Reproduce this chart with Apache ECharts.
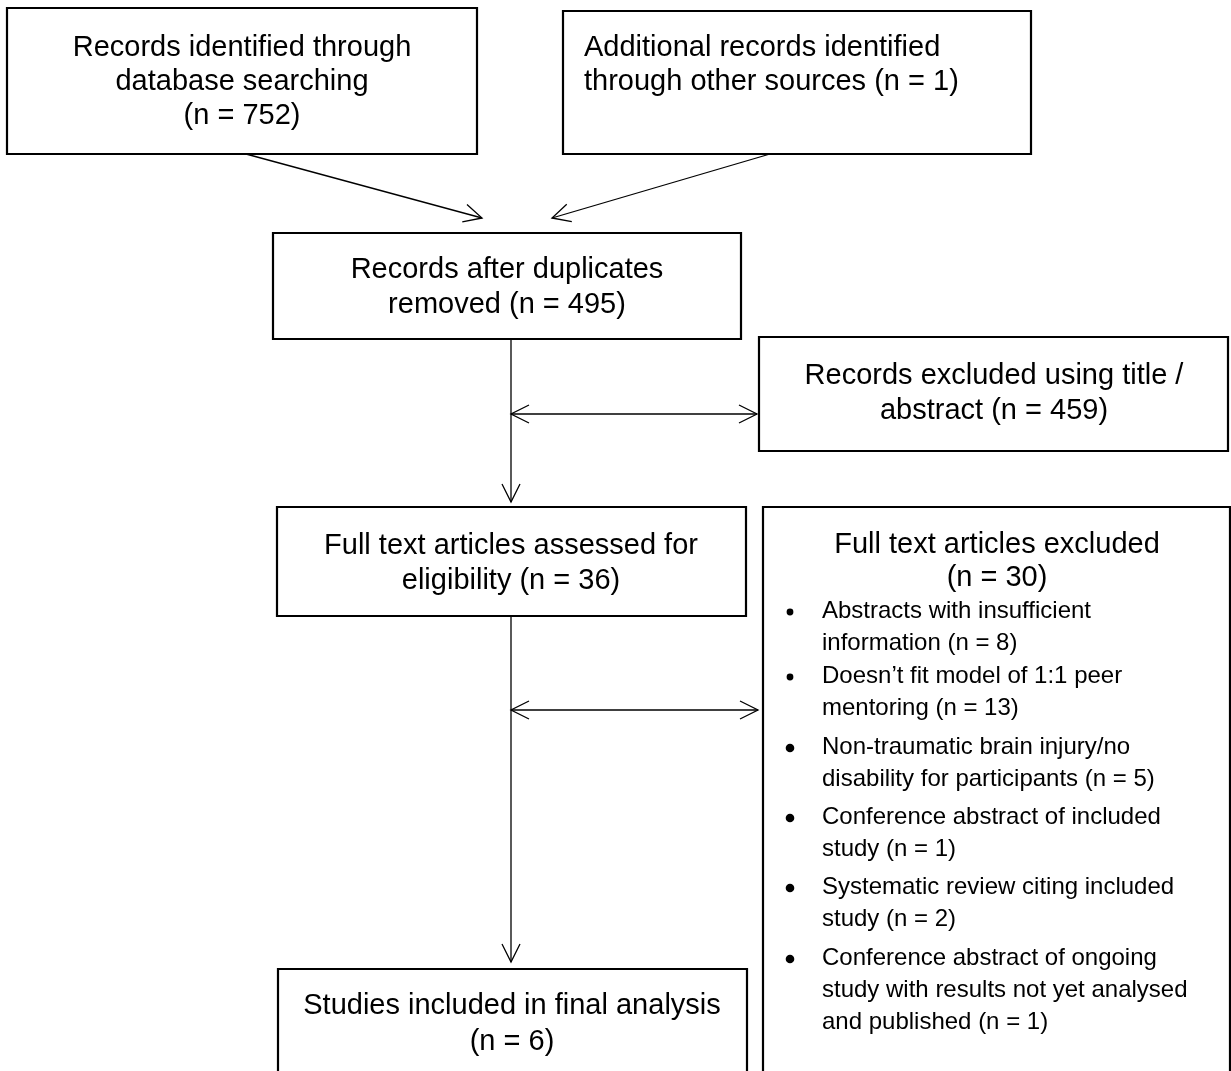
<!DOCTYPE html>
<html>
<head>
<meta charset="utf-8">
<script src="https://cdn.jsdelivr.net/npm/echarts@6/dist/echarts.min.js"></script>
<style>
html,body{margin:0;padding:0;background:#fff;}
#chart{width:1231px;height:1071px;}
</style>
</head>
<body>
<div id="chart"></div>
<script>
// ---- Diagram content (text) ----
const box1Lines = ['Records identified through', 'database searching', '(n = 752)'];
const box2Lines = ['Additional records identified', 'through other sources (n = 1)'];
const box3Lines = ['Records after duplicates', 'removed (n = 495)'];
const box4Lines = ['Records excluded using title /', 'abstract (n = 459)'];
const box5Lines = ['Full text articles assessed for', 'eligibility (n = 36)'];
const box6Title = ['Full text articles excluded', '(n = 30)'];
const exclusionReasons = [
  ['Abstracts with insufficient', 'information (n = 8)'],
  ['Doesn\u2019t fit model of 1:1 peer', 'mentoring (n = 13)'],
  ['Non-traumatic brain injury/no', 'disability for participants (n = 5)'],
  ['Conference abstract of included', 'study (n = 1)'],
  ['Systematic review citing included', 'study (n = 2)'],
  ['Conference abstract of ongoing', 'study with results not yet analysed', 'and published (n = 1)']
];
const box7Lines = ['Studies included in final analysis', '(n = 6)'];

// ---- Diagram layout in diagram units (x0, y0, x1, y1) ----
const boxRects = [
  [7, 8, 477, 154],
  [563, 11, 1031, 154],
  [273, 233, 741, 339],
  [759, 337, 1228, 451],
  [277, 507, 746, 616],
  [763, 507, 1230, 1090],
  [278, 969, 747, 1090]
];
// text blocks: [lines, anchorX, firstLineY, lineStep, align]
const textBlocks = [
  [box1Lines, 242, 48, 34, 'center'],
  [box2Lines, 584, 48, 34, 'left'],
  [box3Lines, 507, 270, 35, 'center'],
  [box4Lines, 994, 376, 35, 'center'],
  [box5Lines, 511, 546, 35, 'center'],
  [box6Title, 997, 545, 33, 'center'],
  [box7Lines, 512, 1006, 36, 'center']
];
const reasonFirstY = [611, 676, 747, 817, 887, 958];
const reasonStep = 32;
const reasonTextX = 822;
const bulletX = 790;
const bulletRadius = [3.4, 3.4, 4.3, 4.3, 4.3, 4.3];

// arrows: [x0, y0, x1, y1, headAtStart, headAtEnd]
const arrows = [
  [246, 154, 482, 218, 0, 1],
  [770, 154, 552, 218, 0, 1],
  [511, 339, 511, 502, 0, 1],
  [511, 414, 757, 414, 1, 1],
  [511, 616, 511, 962, 0, 1],
  [511, 710, 758, 710, 1, 1]
];

// ---- Build element data ----
const textData = [];
textBlocks.forEach(function (b) {
  b[0].forEach(function (line, i) {
    textData.push([b[1], b[2] + i * b[3], line, b[4], 29]);
  });
});
const bulletData = [];
exclusionReasons.forEach(function (lines, k) {
  lines.forEach(function (line, i) {
    textData.push([reasonTextX, reasonFirstY[k] + i * reasonStep, line, 'left', 24]);
  });
  bulletData.push([bulletX, reasonFirstY[k] + 1, bulletRadius[k]]);
});

const FONT = '"Liberation Sans", Arial, Helvetica, sans-serif';

function headPts(tip, from, len, half) {
  const dx = tip[0] - from[0], dy = tip[1] - from[1];
  const d = Math.sqrt(dx * dx + dy * dy);
  const ux = dx / d, uy = dy / d;
  const bx = tip[0] - ux * len, by = tip[1] - uy * len;
  return [[bx - uy * half, by + ux * half], tip, [bx + uy * half, by - ux * half]];
}

const chart = echarts.init(document.getElementById('chart'), null, {renderer: 'canvas'});
chart.setOption({
  backgroundColor: '#ffffff',
  animation: false,
  grid: {left: 0, right: 0, top: 0, bottom: 0},
  xAxis: {type: 'value', min: 0, max: 1231, show: false},
  yAxis: {type: 'value', min: 0, max: 1071, inverse: true, show: false},
  series: [
    {
      type: 'custom',
      coordinateSystem: 'cartesian2d',
      clip: false,
      data: boxRects,
      renderItem: function (params, api) {
        const p0 = api.coord([api.value(0), api.value(1)]);
        const p1 = api.coord([api.value(2), api.value(3)]);
        return {
          type: 'rect',
          shape: {x: p0[0], y: p0[1], width: p1[0] - p0[0], height: p1[1] - p0[1]},
          style: {fill: 'none', stroke: '#000', lineWidth: 2.2}
        };
      }
    },
    {
      type: 'custom',
      coordinateSystem: 'cartesian2d',
      clip: false,
      data: arrows,
      renderItem: function (params, api) {
        const a = api.coord([api.value(0), api.value(1)]);
        const b = api.coord([api.value(2), api.value(3)]);
        const children = [{
          type: 'line',
          shape: {x1: a[0], y1: a[1], x2: b[0], y2: b[1]},
          style: {stroke: '#000', lineWidth: 1.3}
        }];
        if (api.value(5)) {
          children.push({type: 'polyline', shape: {points: headPts(b, a, 18, 9)}, style: {stroke: '#000', lineWidth: 1.3, fill: 'none'}});
        }
        if (api.value(4)) {
          children.push({type: 'polyline', shape: {points: headPts(a, b, 18, 9)}, style: {stroke: '#000', lineWidth: 1.3, fill: 'none'}});
        }
        return {type: 'group', children: children};
      }
    },
    {
      type: 'custom',
      coordinateSystem: 'cartesian2d',
      clip: false,
      data: bulletData,
      renderItem: function (params, api) {
        const c = api.coord([api.value(0), api.value(1)]);
        return {type: 'circle', shape: {cx: c[0], cy: c[1], r: api.value(2)}, style: {fill: '#000'}};
      }
    },
    {
      type: 'custom',
      coordinateSystem: 'cartesian2d',
      clip: false,
      data: textData,
      dimensions: ['x', 'y', 'text', 'align', 'size'],
      encode: {x: 0, y: 1},
      renderItem: function (params, api) {
        const d = textData[params.dataIndex];
        const c = api.coord([d[0], d[1]]);
        return {
          type: 'text',
          style: {
            text: d[2], x: c[0], y: c[1],
            font: d[4] + 'px ' + FONT,
            fill: '#000',
            align: d[3], verticalAlign: 'middle'
          }
        };
      }
    }
  ]
});
</script>
</body>
</html>
